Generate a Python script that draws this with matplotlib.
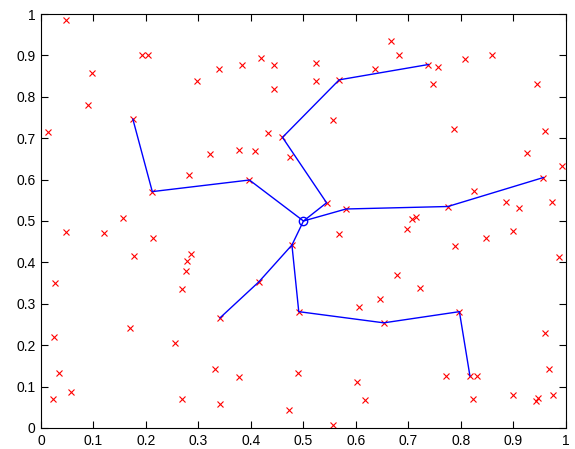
import matplotlib
matplotlib.use("Agg")
import matplotlib.pyplot as plt
import numpy as np

plt.rcParams['font.family'] = ['Liberation Sans', 'DejaVu Sans']

# scattered points (red x)
pts_x = [0.048, 0.014, 0.097, 0.089, 0.192, 0.203, 0.175, 0.212, 0.281, 0.298,
         0.321, 0.339, 0.383, 0.378, 0.397, 0.408, 0.419, 0.444, 0.443, 0.432,
         0.460, 0.475, 0.157, 0.666, 0.681, 0.523, 0.523, 0.568, 0.636, 0.738,
         0.757, 0.747, 0.808, 0.860, 0.945, 0.556, 0.786, 0.960, 0.925, 0.992,
         0.957, 0.544, 0.825, 0.886, 0.911, 0.973, 0.581, 0.775, 0.706, 0.714,
         0.568, 0.697, 0.789, 0.848, 0.900, 0.987, 0.478, 0.491, 0.679, 0.722,
         0.646, 0.606, 0.653, 0.797, 0.817, 0.831, 0.772, 0.960, 0.968, 0.490,
         0.602, 0.617, 0.823, 0.900, 0.947, 0.943, 0.976, 0.557, 0.472, 0.048,
         0.120, 0.214, 0.178, 0.286, 0.279, 0.276, 0.268, 0.027, 0.170, 0.415,
         0.341, 0.025, 0.255, 0.034, 0.332, 0.378, 0.057, 0.022, 0.268, 0.341]
pts_y = [0.985, 0.716, 0.857, 0.781, 0.901, 0.901, 0.746, 0.571, 0.612, 0.837,
         0.661, 0.866, 0.878, 0.672, 0.599, 0.670, 0.894, 0.878, 0.819, 0.712,
         0.702, 0.655, 0.507, 0.936, 0.901, 0.881, 0.837, 0.841, 0.866, 0.878,
         0.871, 0.830, 0.891, 0.901, 0.830, 0.744, 0.722, 0.717, 0.664, 0.633,
         0.605, 0.544, 0.573, 0.547, 0.532, 0.547, 0.529, 0.535, 0.504, 0.509,
         0.469, 0.481, 0.440, 0.460, 0.477, 0.412, 0.442, 0.281, 0.369, 0.339,
         0.311, 0.293, 0.254, 0.281, 0.126, 0.126, 0.126, 0.229, 0.143, 0.134,
         0.111, 0.068, 0.070, 0.080, 0.072, 0.064, 0.080, 0.007, 0.043, 0.473,
         0.471, 0.459, 0.415, 0.421, 0.403, 0.380, 0.336, 0.351, 0.242, 0.353,
         0.266, 0.219, 0.205, 0.134, 0.143, 0.123, 0.088, 0.070, 0.070, 0.059]

# tree branches (blue lines), each starts at the root
root = (0.5, 0.5)
branches = [
    ([0.5, 0.544, 0.460, 0.568, 0.738], [0.5, 0.544, 0.702, 0.841, 0.878]),
    ([0.5, 0.581, 0.775, 0.957], [0.5, 0.529, 0.535, 0.605]),
    ([0.5, 0.397, 0.212, 0.175], [0.5, 0.599, 0.571, 0.746]),
    ([0.5, 0.478, 0.415, 0.341], [0.5, 0.442, 0.353, 0.266]),
    ([0.478, 0.491, 0.653, 0.797, 0.817], [0.442, 0.281, 0.254, 0.281, 0.126]),
]

fig = plt.figure(figsize=(5.75, 4.49), dpi=100)
ax = fig.add_axes([0.0713, 0.0468, 0.913, 0.9220])

ax.plot(pts_x, pts_y, 'x', color='#ff0000', markersize=5, markeredgewidth=0.8,
        linestyle='none')
for bx, by in branches:
    ax.plot(bx, by, '-', color='#0000ff', linewidth=1.0)
ax.plot([root[0]], [root[1]], 'o', markerfacecolor='none', markeredgecolor='#0000ff',
        markersize=6, markeredgewidth=1.0)

ticks = np.round(np.arange(0, 1.01, 0.1), 1)
labels = ['0' if t == 0 else ('1' if t == 1 else f'{t:g}') for t in ticks]
ax.set_xlim(0, 1)
ax.set_ylim(0, 1)
ax.set_xticks(ticks)
ax.set_yticks(ticks)
ax.set_xticklabels(labels)
ax.set_yticklabels(labels)
ax.tick_params(direction='in', top=True, right=True, length=5, width=0.8,
               labelsize=10, colors='black', pad=4)
for s in ax.spines.values():
    s.set_linewidth(0.8)

fig.savefig('out.png', dpi=100)
